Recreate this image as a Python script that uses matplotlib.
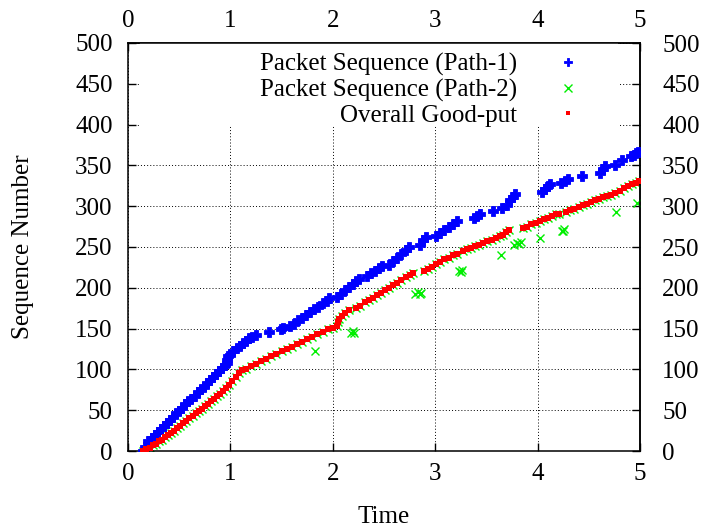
import matplotlib
matplotlib.use("Agg")
import matplotlib.pyplot as plt
from matplotlib.patches import Rectangle

# ---- data ----
path1_t = [0.15, 0.17, 0.20, 0.23, 0.26, 0.29, 0.32, 0.35, 0.38, 0.41, 0.44, 0.47, 0.50,
           0.53, 0.56, 0.59, 0.62, 0.65, 0.68, 0.71, 0.74, 0.77, 0.80, 0.83, 0.86, 0.89,
           0.92, 0.95, 0.97, 0.97, 0.98, 1.00, 1.03, 1.06, 1.09, 1.12, 1.15, 1.18, 1.21,
           1.25, 1.38, 1.49, 1.51, 1.58, 1.62, 1.66, 1.70, 1.74, 1.78, 1.82, 1.86, 1.90,
           1.94, 1.96, 2.04, 2.08, 2.12, 2.16, 2.20, 2.23, 2.26, 2.33, 2.37, 2.41, 2.45,
           2.48, 2.55, 2.59, 2.63, 2.67, 2.71, 2.74, 2.85, 2.88, 2.91, 3.01, 3.05, 3.09,
           3.13, 3.17, 3.21, 3.38, 3.41, 3.44, 3.56, 3.65, 3.70, 3.73, 3.76, 3.78, 4.04,
           4.07, 4.10, 4.12, 4.23, 4.27, 4.30, 4.43, 4.61, 4.64, 4.66, 4.76, 4.82, 4.91,
           4.94, 4.96, 4.98]
path1_s = [0, 5, 12, 16, 19, 23, 27, 31, 34, 38, 42, 46, 49,
           53, 57, 61, 64, 68, 72, 76, 79, 83, 87, 91, 94, 98,
           102, 105, 108, 112, 116, 118, 122, 126, 129, 132, 135, 138, 140,
           142, 146, 150, 151, 153, 156, 160, 163, 167, 170, 174, 177, 181,
           184, 187, 189, 193, 197, 201, 205, 208, 211, 214, 218, 221, 224,
           227, 228, 233, 237, 241, 246, 250, 253, 258, 262, 263, 267, 271,
           274, 278, 282, 285, 288, 290, 294, 298, 302, 307, 311, 315, 317,
           321, 325, 327, 329, 331, 333, 337, 341, 345, 349, 351, 357, 361,
           363, 365, 366]

goodput_t = [0.15, 0.18, 0.21, 0.24, 0.27, 0.30, 0.33, 0.36, 0.39, 0.42, 0.45, 0.48, 0.51,
             0.54, 0.57, 0.60, 0.63, 0.66, 0.69, 0.72, 0.75, 0.78, 0.81, 0.84, 0.87, 0.90,
             0.93, 0.96, 0.99, 1.02, 1.05, 1.08, 1.11, 1.15, 1.20, 1.25, 1.30, 1.35, 1.40,
             1.45, 1.50, 1.55, 1.60, 1.65, 1.70, 1.75, 1.80, 1.85, 1.90, 1.95, 2.00, 2.04,
             2.05, 2.06, 2.09, 2.12, 2.16, 2.23, 2.27, 2.31, 2.35, 2.39, 2.43, 2.47, 2.51,
             2.55, 2.59, 2.63, 2.67, 2.71, 2.75, 2.78, 2.89, 2.93, 2.97, 3.01, 3.05, 3.09,
             3.13, 3.17, 3.21, 3.27, 3.31, 3.35, 3.39, 3.43, 3.47, 3.51, 3.55, 3.59, 3.63,
             3.66, 3.69, 3.72, 3.86, 3.90, 3.94, 3.98, 4.02, 4.06, 4.10, 4.14, 4.18, 4.21,
             4.28, 4.32, 4.36, 4.40, 4.44, 4.48, 4.52, 4.56, 4.60, 4.64, 4.68, 4.72, 4.76,
             4.80, 4.84, 4.88, 4.92, 4.96, 4.99]
goodput_s = [0, 2, 4, 7, 9, 12, 14, 17, 19, 22, 25, 28, 31,
             34, 37, 40, 43, 46, 49, 52, 55, 58, 61, 64, 67, 70,
             74, 77, 81, 86, 91, 96, 99, 101, 104, 107, 110, 113, 116,
             119, 122, 125, 128, 131, 134, 137, 140, 143, 146, 149, 151, 153,
             158, 162, 166, 169, 173, 175, 178, 182, 185, 188, 191, 194, 197,
             200, 203, 206, 210, 213, 216, 218, 220, 223, 226, 229, 232, 235,
             237, 240, 242, 245, 247, 249, 251, 253, 255, 257, 259, 261, 263,
             265, 268, 271, 273, 275, 278, 280, 282, 284, 286, 288, 290, 291,
             293, 295, 297, 299, 301, 303, 305, 307, 309, 311, 312, 314, 316,
             319, 322, 325, 327, 329, 331]

# Path-2 packets that arrive out of order (off the good-put line)
path2_late_t = [1.83, 2.18, 2.20, 2.21, 2.80, 2.83, 2.85, 2.86, 3.23, 3.25, 3.26, 3.64,
                3.77, 3.80, 3.82, 3.84, 4.02, 4.24, 4.25, 4.26, 4.77, 4.97]
path2_late_s = [122, 145, 147, 144, 193, 195, 192, 194, 220, 219, 222, 240,
                253, 255, 254, 256, 261, 270, 269, 272, 293, 304]
# Path-2 packets lying on the good-put line
path2_t = goodput_t + path2_late_t
path2_s = goodput_s + path2_late_s

labels = ["Packet Sequence (Path-1)", "Packet Sequence (Path-2)", "Overall Good-put"]
x_ticks = [0, 1, 2, 3, 4, 5]
y_ticks = [0, 50, 100, 150, 200, 250, 300, 350, 400, 450, 500]

# ---- figure ----
plt.rcParams['font.family'] = ['Liberation Serif', 'DejaVu Serif']
FS = 18

W, H = 703, 531
fig = plt.figure(figsize=(W / 100, H / 100), dpi=100)
L, R, T, B = 128, 640, 43, 451
ax = fig.add_axes([L / W, 1 - B / H, (R - L) / W, (B - T) / H])

ax.set_xlim(0, 5)
ax.set_ylim(0, 500)
ax.set_xticks(x_ticks)
ax.set_yticks(y_ticks)
ax.set_axisbelow(True)
ax.grid(True, color='black', linestyle=(0, (1, 2.2)), linewidth=0.7)

# white key area (gnuplot-style opaque key)
ax.add_patch(Rectangle(((140 - L) / (R - L), (B - 126) / (B - T)),
                       (618 - 140) / (R - L), (126 - T) / (B - T),
                       transform=ax.transAxes, facecolor='white', edgecolor='none',
                       zorder=1))

h2, = ax.plot(path2_t, path2_s, linestyle='none', marker='x', markersize=6,
              markeredgewidth=1.0, color='#00ee00', zorder=2, label=labels[1])
h1, = ax.plot(path1_t, path1_s, linestyle='none', marker='P', markersize=6.5,
              markeredgewidth=0.6, color='#0000ff', zorder=3, label=labels[0])
h3, = ax.plot(goodput_t, goodput_s, linestyle='none', marker='s', markersize=4.2,
              markeredgewidth=0, color='#ff0000', zorder=4, label=labels[2])

for sp in ax.spines.values():
    sp.set_linewidth(1.1)

ax.tick_params(axis='both', direction='in', length=6, width=1.0, labelsize=FS,
               top=False, right=False)
ax.tick_params(axis='y', pad=11)
ax.tick_params(axis='x', pad=9)

secx = ax.secondary_xaxis('top')
secx.set_xticks(x_ticks)
secx.tick_params(direction='in', length=6, width=1.0, labelsize=FS, pad=8)
secy = ax.secondary_yaxis('right')
secy.set_yticks(y_ticks)
secy.tick_params(direction='in', length=6, width=1.0, labelsize=FS, pad=16)
for s in (secx, secy):
    for sp in s.spines.values():
        sp.set_linewidth(1.1)

ax.set_xlabel('Time', fontsize=FS, labelpad=15)
ax.set_ylabel('Sequence Number', fontsize=FS, labelpad=30)

leg = ax.legend(handles=[h1, h2, h3], labels=labels, loc='upper right',
                bbox_to_anchor=(580 / W, 1 - 53 / H), bbox_transform=fig.transFigure,
                frameon=False, markerfirst=False, fontsize=FS, handlelength=1.0,
                handletextpad=1.5, labelspacing=0.1, borderpad=0, borderaxespad=0,
                markerscale=0.85)
leg.set_zorder(5)

fig.savefig('out.png', dpi=100)
